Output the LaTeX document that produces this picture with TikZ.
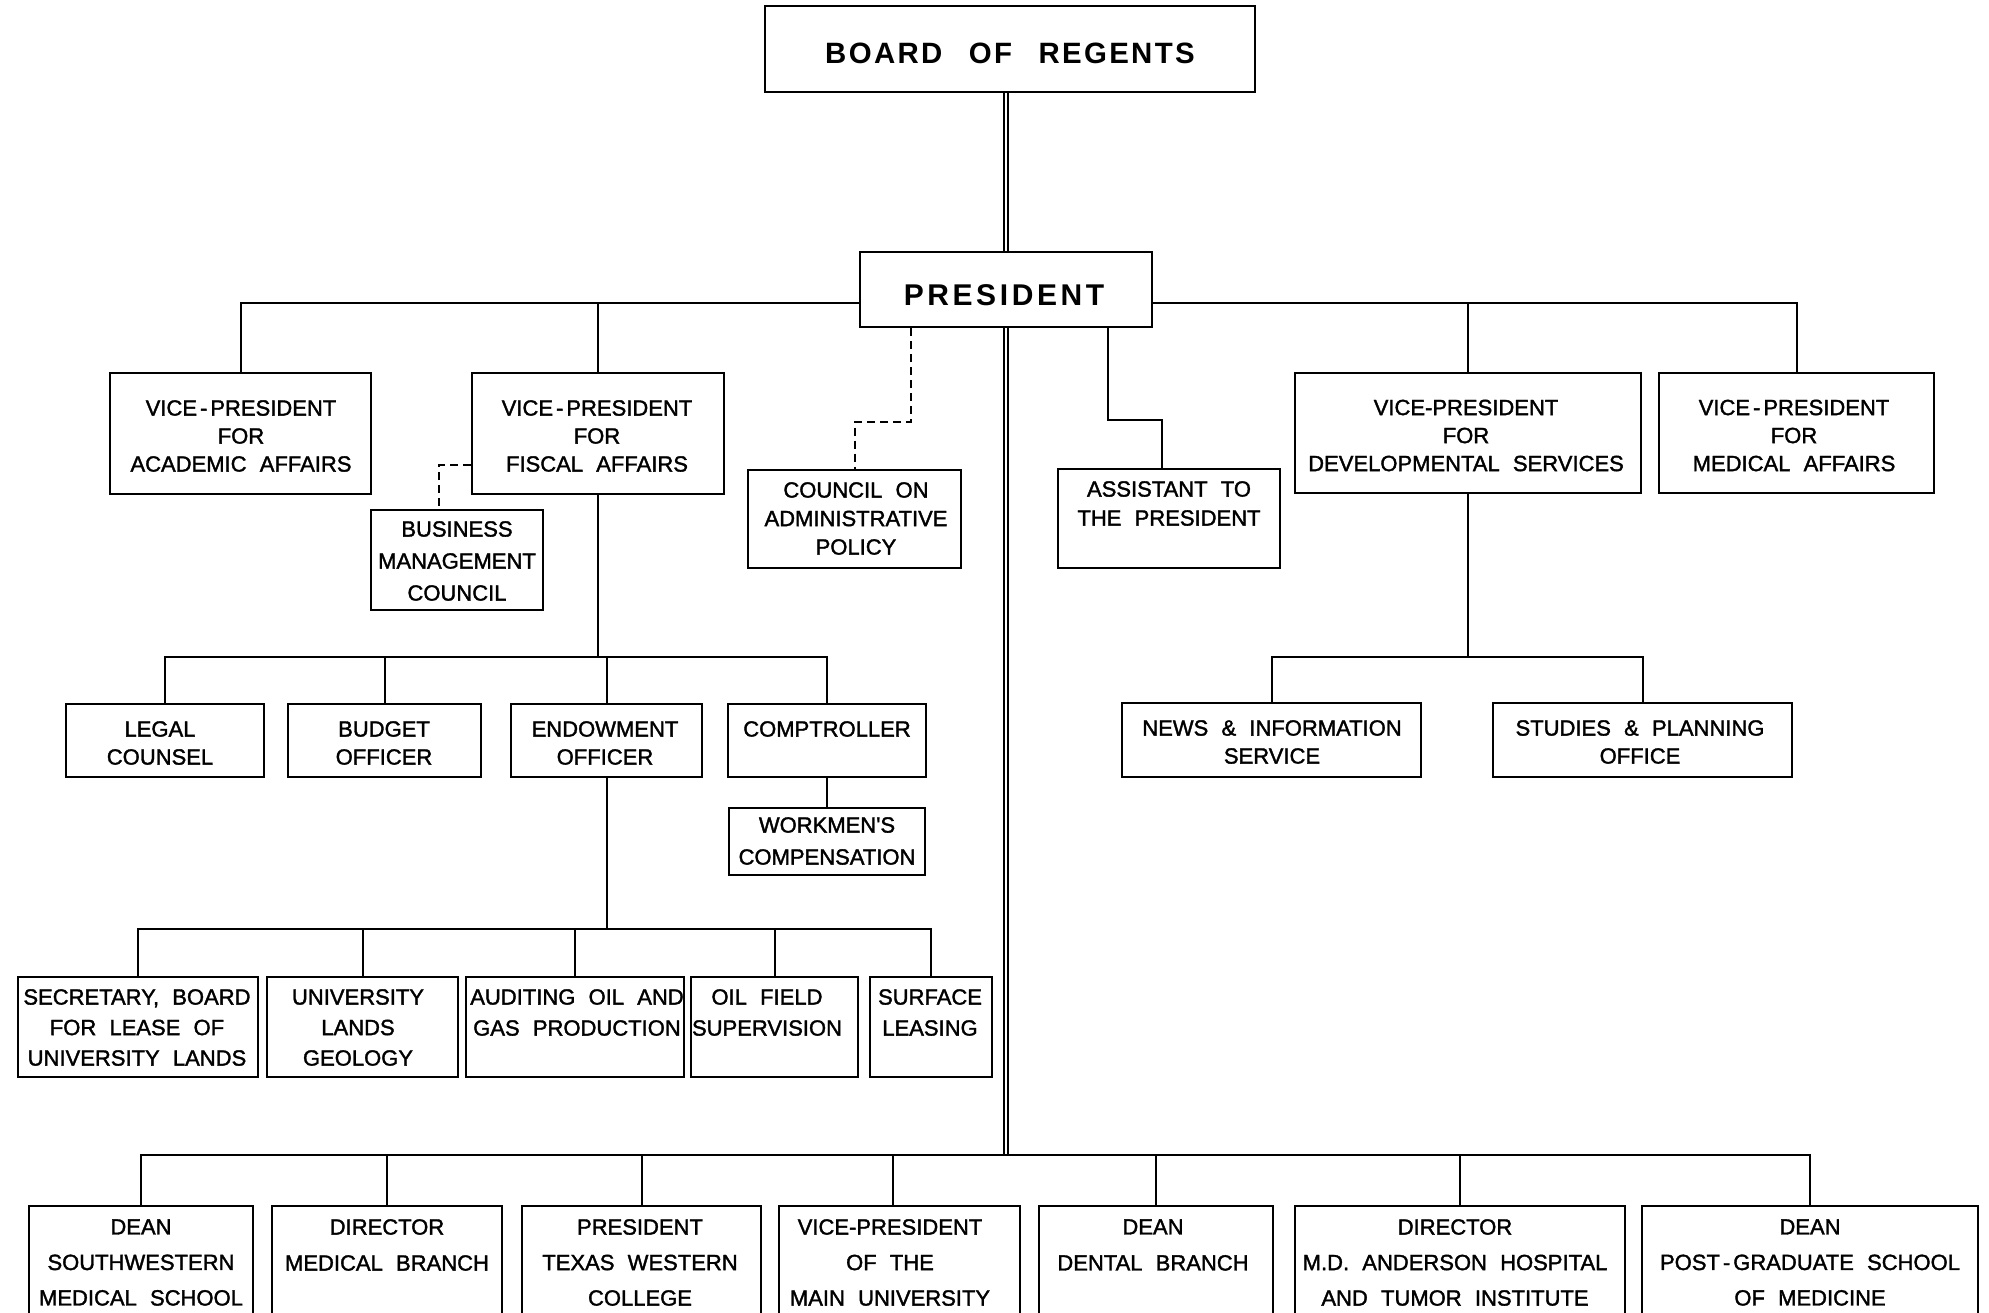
\documentclass[tikz,border=0pt]{standalone}
\usepackage{fontspec}
\setmainfont{Liberation Sans}
\newfontfamily\lettering{Liberation Sans}[FakeBold=1.6]
\usetikzlibrary{fit,calc}
\newcommand\sphy{\kern1.5pt-\kern1.5pt}
\newcommand\widespaces{\spaceskip=0.6em plus 0.1em\relax}
\newcommand\titlespaces{\spaceskip=0.9em\relax}
\tikzset{
  box/.style={draw, line width=1pt, inner sep=0pt},
  conn/.style={line width=1pt},
  dconn/.style={line width=1pt, dash pattern=on 4pt off 2.5pt},
  dbl/.style={line width=0.75pt, double, double distance=1.4pt},
  txt/.style={align=center, inner sep=0pt, font={\lettering\fontsize{11}{#1}\selectfont\widespaces}},
  txt/.default=14,
  big/.style={inner sep=0pt, font={\fontsize{#1}{#1}\selectfont\bfseries}},
}
\begin{document}
\begin{tikzpicture}[x=0.5pt,y=-0.5pt]
\path[use as bounding box, fill=white] (0,0) rectangle (1989,1312);
% ---------- boxes ----------
\node[box, fit={(765,6) (1255,92)}] (board) {};
\node[box, fit={(860,252) (1152,327)}] (pres) {};
\node[box, fit={(110,373) (371,494)}] (acad) {};
\node[box, fit={(472,373) (724,494)}] (fisc) {};
\node[box, fit={(371,510) (543,610)}] (bmc) {};
\node[box, fit={(748,470) (961,568)}] (council) {};
\node[box, fit={(1058,469) (1280,568)}] (asst) {};
\node[box, fit={(1295,373) (1641,493)}] (dev) {};
\node[box, fit={(1659,373) (1934,493)}] (med) {};
\node[box, fit={(1122,703) (1421,777)}] (news) {};
\node[box, fit={(1493,703) (1792,777)}] (studies) {};
\node[box, fit={(66,704) (264,777)}] (legal) {};
\node[box, fit={(288,704) (481,777)}] (budget) {};
\node[box, fit={(511,704) (702,777)}] (endow) {};
\node[box, fit={(728,704) (926,777)}] (compt) {};
\node[box, fit={(729,808) (925,875)}] (work) {};
\node[box, fit={(18,977) (258,1077)}] (sec) {};
\node[box, fit={(267,977) (458,1077)}] (ulands) {};
\node[box, fit={(466,977) (684,1077)}] (audit) {};
\node[box, fit={(691,977) (858,1077)}] (oil) {};
\node[box, fit={(870,977) (992,1077)}] (surf) {};
\node[box, fit={(29,1206) (253,1330)}] (dsw) {};
\node[box, fit={(272,1206) (502,1330)}] (dmb) {};
\node[box, fit={(522,1206) (761,1330)}] (ptw) {};
\node[box, fit={(779,1206) (1020,1330)}] (vpm) {};
\node[box, fit={(1039,1206) (1273,1330)}] (dent) {};
\node[box, fit={(1295,1206) (1625,1330)}] (mda) {};
\node[box, fit={(1642,1206) (1978,1330)}] (dpg) {};
% ---------- texts ----------
\node[big=14.7] (tboard) at (1010,53) {\addfontfeature{LetterSpace=8}\titlespaces BOARD OF REGENTS};
\node[big=15] (tpres) at (1004,295) {\addfontfeature{LetterSpace=12}PRESIDENT};
\node[txt=14] (tacad) at (241,436) {VICE\sphy PRESIDENT\\FOR\\ACADEMIC AFFAIRS};
\node[txt=14] (tfisc) at (597,436) {VICE\sphy PRESIDENT\\FOR\\FISCAL AFFAIRS};
\node[txt=16] (tbmc) at (457,561) {BUSINESS\\MANAGEMENT\\COUNCIL};
\node[txt=14.25] (tcouncil) at (856,518.5) {COUNCIL ON\\ADMINISTRATIVE\\POLICY};
\node[txt=14.5] (tasst) at (1169,503.5) {ASSISTANT TO\\THE PRESIDENT};
\node[txt=14] (tdev) at (1466,435.5) {VICE-PRESIDENT\\FOR\\DEVELOPMENTAL SERVICES};
\node[txt=14] (tmed) at (1794,435.5) {VICE\sphy PRESIDENT\\FOR\\MEDICAL AFFAIRS};
\node[txt=14] (tnews) at (1272,742) {NEWS \& INFORMATION\\SERVICE};
\node[txt=14] (tstudies) at (1640,742) {STUDIES \& PLANNING\\OFFICE};
\node[txt=14] (tlegal) at (160,743) {LEGAL\\COUNSEL};
\node[txt=14] (tbudget) at (384,743) {BUDGET\\OFFICER};
\node[txt=14] (tendow) at (605,743) {ENDOWMENT\\OFFICER};
\node[txt=14] (tcompt) at (827,729) {COMPTROLLER};
\node[txt=16] (twork) at (827,841) {WORKMEN'S\\COMPENSATION};
\node[txt=15.25] (tsec) at (137,1027.5) {SECRETARY, BOARD\\FOR LEASE OF\\UNIVERSITY LANDS};
\node[txt=15.25] (tulands) at (358,1027.5) {UNIVERSITY\\LANDS\\GEOLOGY};
\node[txt=15.5] (taudit) at (577,1012.5) {AUDITING OIL AND\\GAS PRODUCTION};
\node[txt=15.5] (toil) at (767,1012.5) {OIL FIELD\\SUPERVISION};
\node[txt=15.5] (tsurf) at (930,1012.5) {SURFACE\\LEASING};
\node[txt=17.75] (tdsw) at (141,1262.5) {DEAN\\SOUTHWESTERN\\MEDICAL SCHOOL};
\node[txt=18] (tdmb) at (387,1245) {DIRECTOR\\MEDICAL BRANCH};
\node[txt=17.75] (tptw) at (640,1262.5) {PRESIDENT\\TEXAS WESTERN\\COLLEGE};
\node[txt=17.75] (tvpm) at (890,1262.5) {VICE-PRESIDENT\\OF THE\\MAIN UNIVERSITY};
\node[txt=18] (tdent) at (1153,1245) {DEAN\\DENTAL BRANCH};
\node[txt=17.75] (tmda) at (1455,1262.5) {DIRECTOR\\M.D. ANDERSON HOSPITAL\\AND TUMOR INSTITUTE};
\node[txt=17.75] (tdpg) at (1810,1262.5) {DEAN\\POST\sphy GRADUATE SCHOOL\\OF MEDICINE};
% ---------- bus coordinates ----------
\coordinate (busT) at ($(pres.west)+(0,13.5)$);
\coordinate (busF) at (0,657);
\coordinate (busE) at (0,929);
\coordinate (busB) at (1007,1155);
% ---------- connectors ----------
\draw[dbl] (pres.north |- board.south) -- (pres.north);
\draw[dbl] (pres.south) -- (pres.south |- busB);
% top level
\draw[conn] (busT) -| (acad.north);
\draw[conn] (fisc.north) -- (fisc.north |- busT);
\draw[conn] ($(pres.east)+(0,13.5)$) -| (med.north);
\draw[conn] (dev.north) -- (dev.north |- busT);
% staff
\draw[dconn] ($(fisc.west)+(0,31.5)$) -| ($(bmc.north)+(-18,0)$);
\draw[dconn] ($(pres.south)+(-95,0)$) |- ($(council.north)+(0,-47)$) -- (council.north);
\draw[conn] ($(pres.south)+(102,0)$) |- ($(asst.north)+(-7,-48)$) -- ($(asst.north)+(-7,0)$);
% fiscal
\draw[conn] (fisc.south) -- (fisc.south |- busF);
\draw[conn] (legal.north) |- (compt.north |- busF) -- (compt.north);
\draw[conn] (budget.north) -- (budget.north |- busF);
\draw[conn] (endow.north) -- (endow.north |- busF);
\draw[conn] (compt.south) -- (work.north);
% endowment
\draw[conn] (endow.south) -- (endow.south |- busE);
\draw[conn] (sec.north) |- (surf.north |- busE) -- (surf.north);
\draw[conn] (ulands.north) -- (ulands.north |- busE);
\draw[conn] (audit.north) -- (audit.north |- busE);
\draw[conn] (oil.north) -- (oil.north |- busE);
% developmental
\draw[conn] (dev.south) -- (dev.south |- busF);
\draw[conn] (news.north) |- (studies.north |- busF) -- (studies.north);
% bottom row
\draw[conn] (dsw.north) |- (dpg.north |- busB) -- (dpg.north);
\draw[conn] (dmb.north) -- (dmb.north |- busB);
\draw[conn] (ptw.north) -- (ptw.north |- busB);
\draw[conn] ($(vpm.north)+(-7,0)$) -- ($(vpm.north |- busB)+(-7,0)$);
\draw[conn] (dent.north) -- (dent.north |- busB);
\draw[conn] (mda.north) -- (mda.north |- busB);
\end{tikzpicture}
\end{document}
